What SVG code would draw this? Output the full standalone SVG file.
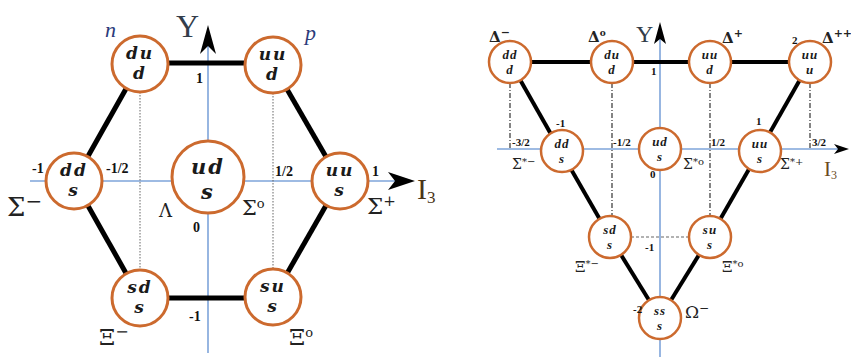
<svg xmlns="http://www.w3.org/2000/svg" width="851" height="359" viewBox="0 0 851 359">
<defs>
<style>
.axis{stroke:#7ea4da;stroke-width:1.6;fill:none}
.arrow{fill:#000}
.edge{stroke:#000;stroke-width:5;stroke-linecap:butt}
.edgeR{stroke:#000;stroke-width:4}
.dot{stroke:#666;stroke-width:1;stroke-dasharray:1.5 1.5}
.dash{stroke:#333;stroke-width:1.2;stroke-dasharray:5 2 1 2}
.hdash{stroke:#666;stroke-width:1.2;stroke-dasharray:3 2}
.cL{fill:#fff;stroke:#cc6a2e;stroke-width:3}
.cR{fill:#fff;stroke:#cc6a2e;stroke-width:2.5}
.q{font-family:"DejaVu Serif",serif;font-weight:bold;font-style:italic;fill:#1a1a1a;text-anchor:middle}
.qL{font-size:17px;letter-spacing:2px}
.qC{font-size:21px;letter-spacing:2px}
.qR{font-family:"Liberation Serif",serif;font-size:13px;letter-spacing:1px}
.num{font-family:"Liberation Serif",serif;font-weight:bold;font-size:14px;fill:#111}
.numR{font-family:"Liberation Serif",serif;font-weight:bold;font-size:11px;fill:#111}
.gr{font-family:"DejaVu Serif",serif;fill:#222}
.ax{font-family:"Liberation Serif",serif;fill:#333d4a}
.it{font-family:"Liberation Serif",serif;font-style:italic;fill:#2b3a7a}
</style>
</defs>

<!-- axes -->
<g id="axes">
<line class="axis" x1="30" y1="181" x2="395" y2="181"/>
<line class="axis" x1="208" y1="353" x2="208" y2="45"/>
<polygon class="arrow" points="208,25 216,54 208,46 200,54"/>
<polygon class="arrow" points="415,181 388,172 395,181 388,190"/>
<line class="axis" x1="497" y1="149" x2="840" y2="149"/>
<line class="axis" x1="660" y1="357" x2="660" y2="38"/>
<polygon class="arrow" points="660,22 666,44 660,39 654,44"/>
<polygon class="arrow" points="849,149 834,144 838,149 834,154"/>
</g>

<!-- connectors -->
<g id="connectors">
<line class="dot" x1="140" y1="92" x2="140" y2="270"/>
<line class="dot" x1="273" y1="93" x2="273" y2="269"/>
<line class="edge" x1="140" y1="63" x2="273" y2="63"/>
<line class="edge" x1="140" y1="298" x2="273" y2="298"/>
<line class="edge" x1="140" y1="64" x2="74" y2="181"/>
<line class="edge" x1="74" y1="181" x2="140" y2="298"/>
<line class="edge" x1="273" y1="65" x2="340" y2="181"/>
<line class="edge" x1="340" y1="181" x2="273" y2="298"/>

<line class="dash" x1="510" y1="83" x2="510" y2="149"/>
<line class="dash" x1="612" y1="83" x2="612" y2="216"/>
<line class="dash" x1="710" y1="83" x2="710" y2="216"/>
<line class="dash" x1="810" y1="83" x2="810" y2="149"/>
<line class="hdash" x1="631" y1="237" x2="689" y2="237"/>
<line class="edgeR" x1="510" y1="62" x2="810" y2="62"/>
<line class="edgeR" x1="510" y1="62" x2="560" y2="150"/>
<line class="edgeR" x1="560" y1="150" x2="610" y2="237"/>
<line class="edgeR" x1="610" y1="237" x2="660" y2="318"/>
<line class="edgeR" x1="810" y1="62" x2="760" y2="150"/>
<line class="edgeR" x1="760" y1="150" x2="710" y2="237"/>
<line class="edgeR" x1="710" y1="237" x2="660" y2="318"/>
</g>

<!-- left octet nodes -->
<g id="n-node"><circle class="cL" cx="140" cy="64" r="28"/><text class="q qL"><tspan x="140" y="59">du</tspan><tspan x="140" y="79">d</tspan></text></g>
<g id="p-node"><circle class="cL" cx="273" cy="65" r="28"/><text class="q qL"><tspan x="273" y="60">uu</tspan><tspan x="273" y="80">d</tspan></text></g>
<g id="sigma-minus"><circle class="cL" cx="74" cy="181" r="28"/><text class="q qL"><tspan x="74" y="176">dd</tspan><tspan x="74" y="196">s</tspan></text></g>
<g id="lambda-sigma0"><circle class="cL" cx="208" cy="177" r="36"/><text class="q qC"><tspan x="208" y="174">ud</tspan><tspan x="208" y="199">s</tspan></text></g>
<g id="sigma-plus"><circle class="cL" cx="340" cy="181" r="28"/><text class="q qL"><tspan x="340" y="176">uu</tspan><tspan x="340" y="196">s</tspan></text></g>
<g id="xi-minus"><circle class="cL" cx="140" cy="298" r="28"/><text class="q qL"><tspan x="140" y="293">sd</tspan><tspan x="140" y="313">s</tspan></text></g>
<g id="xi-zero"><circle class="cL" cx="273" cy="297" r="28"/><text class="q qL"><tspan x="273" y="292">su</tspan><tspan x="273" y="312">s</tspan></text></g>

<!-- right decuplet nodes -->
<g id="delta-minus"><circle class="cR" cx="510" cy="62" r="21"/><text class="q qR"><tspan x="510" y="59">dd</tspan><tspan x="510" y="74">d</tspan></text></g>
<g id="delta-zero"><circle class="cR" cx="612" cy="62" r="21"/><text class="q qR"><tspan x="612" y="59">du</tspan><tspan x="612" y="74">d</tspan></text></g>
<g id="delta-plus"><circle class="cR" cx="710" cy="62" r="21"/><text class="q qR"><tspan x="710" y="59">uu</tspan><tspan x="710" y="74">d</tspan></text></g>
<g id="delta-plusplus"><circle class="cR" cx="810" cy="62" r="21"/><text class="q qR"><tspan x="810" y="59">uu</tspan><tspan x="810" y="74">u</tspan></text></g>
<g id="sigmastar-minus"><circle class="cR" cx="562" cy="151" r="21"/><text class="q qR"><tspan x="562" y="148">dd</tspan><tspan x="562" y="163">s</tspan></text></g>
<g id="sigmastar-zero"><circle class="cR" cx="660" cy="149" r="21"/><text class="q qR"><tspan x="660" y="146">ud</tspan><tspan x="660" y="161">s</tspan></text></g>
<g id="sigmastar-plus"><circle class="cR" cx="760" cy="151" r="21"/><text class="q qR"><tspan x="760" y="148">uu</tspan><tspan x="760" y="163">s</tspan></text></g>
<g id="xistar-minus"><circle class="cR" cx="610" cy="237" r="21"/><text class="q qR"><tspan x="610" y="234">sd</tspan><tspan x="610" y="249">s</tspan></text></g>
<g id="xistar-zero"><circle class="cR" cx="710" cy="237" r="21"/><text class="q qR"><tspan x="710" y="234">su</tspan><tspan x="710" y="249">s</tspan></text></g>
<g id="omega-minus"><circle class="cR" cx="660" cy="318" r="21"/><text class="q qR"><tspan x="660" y="315">ss</tspan><tspan x="660" y="330">s</tspan></text></g>

<!-- left labels -->
<g id="labels-left">
<text class="ax" x="176" y="37" font-size="32">Y</text>
<text x="417" y="199" font-family="Liberation Serif,serif" font-size="30" fill="#4a3518">I<tspan font-size="17" dy="4">3</tspan></text>
<text class="it" x="105" y="37" font-size="22">n</text>
<text class="it" x="305" y="40" font-size="22">p</text>
<text class="num" x="196" y="83">1</text>
<text class="num" x="32" y="173">-1</text>
<text class="num" x="106" y="173">-1/2</text>
<text class="num" x="275" y="176">1/2</text>
<text class="num" x="372" y="176">1</text>
<text class="num" x="193" y="232">0</text>
<text class="num" x="189" y="321">-1</text>
<text class="gr" x="7" y="216" font-size="26">Σ<tspan font-size="20" dy="-8">−</tspan></text>
<text class="gr" x="159" y="217" font-size="18">Λ</text>
<text class="gr" x="242" y="215" font-size="21">Σ<tspan font-size="13" dy="-7">o</tspan></text>
<text class="gr" x="367" y="214" font-size="23">Σ<tspan font-size="15" dy="-8">+</tspan></text>
<text class="gr" x="99" y="345" font-size="23">Ξ<tspan font-size="16" dy="-8">−</tspan></text>
<text class="gr" x="289" y="345" font-size="23">Ξ<tspan font-size="13" dy="-8">o</tspan></text>
</g>

<!-- right labels -->
<g id="labels-right">
<text class="ax" x="636" y="42" font-size="24">Y</text>
<text x="824" y="176" font-family="Liberation Serif,serif" font-size="21" fill="#6b4a1e">I<tspan font-size="12" dy="3">3</tspan></text>
<text class="gr" x="489" y="42" font-size="15" font-weight="bold">Δ<tspan font-size="11" dy="-6">−</tspan></text>
<text class="gr" x="588" y="42" font-size="15" font-weight="bold">Δ<tspan font-size="9" dy="-6">o</tspan></text>
<text class="gr" x="722" y="43" font-size="15" font-weight="bold">Δ<tspan font-size="11" dy="-6">+</tspan></text>
<text class="gr" x="822" y="43" font-size="15" font-weight="bold">Δ<tspan font-size="11" dy="-6">++</tspan></text>
<text class="numR" x="792" y="44">2</text>
<text class="numR" x="651" y="75">1</text>
<text class="numR" x="556" y="127">-1</text>
<text class="numR" x="756" y="125">1</text>
<text class="numR" x="512" y="146">-3/2</text>
<text class="numR" x="613" y="146">-1/2</text>
<text class="numR" x="711" y="146">1/2</text>
<text class="numR" x="812" y="146">3/2</text>
<text class="numR" x="650" y="178">0</text>
<text class="numR" x="645" y="251">-1</text>
<text class="numR" x="633" y="313">-2</text>
<text class="gr" x="512" y="169" font-size="14">Σ<tspan font-size="10" dy="-4">*−</tspan></text>
<text class="gr" x="683" y="169" font-size="14">Σ<tspan font-size="10" dy="-4">*o</tspan></text>
<text class="gr" x="780" y="169" font-size="14">Σ<tspan font-size="10" dy="-4">*+</tspan></text>
<text class="gr" x="575" y="272" font-size="15">Ξ<tspan font-size="10" dy="-5">*−</tspan></text>
<text class="gr" x="722" y="272" font-size="15">Ξ<tspan font-size="10" dy="-5">*o</tspan></text>
<text class="gr" x="685" y="318" font-size="17" fill="#444">Ω<tspan font-size="12" dy="-6">−</tspan></text>
</g>
</svg>
